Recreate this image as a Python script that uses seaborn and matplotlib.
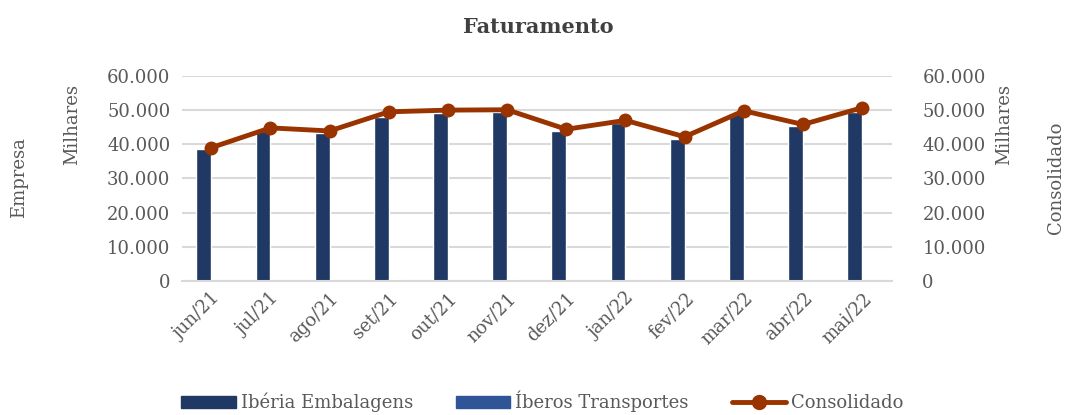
import numpy as np
import pandas as pd
import matplotlib
matplotlib.use("Agg")
import matplotlib.pyplot as plt
import seaborn as sns
from matplotlib.lines import Line2D
from matplotlib.patches import Patch

# dados
meses = ['jun/21', 'jul/21', 'ago/21', 'set/21', 'out/21', 'nov/21',
         'dez/21', 'jan/22', 'fev/22', 'mar/22', 'abr/22', 'mai/22']
iberia = [38600, 43900, 43300, 48000, 49200, 49500,
          43900, 46100, 41600, 49200, 45300, 49500]
iberos = [150, 120, 130, 500, 150, 450, 120, 100, 100, 120, 110, 120]
consolidado = [39000, 44800, 43900, 49500, 50000, 50100,
               44400, 47000, 42200, 49800, 45800, 50700]
yticks = [0, 10000, 20000, 30000, 40000, 50000, 60000]
ylabels = ['0', '10.000', '20.000', '30.000', '40.000', '50.000', '60.000']

cor_iberia = '#1F3864'
cor_iberos = '#2F5597'
cor_cons = '#993300'
cinza = '#595959'

sns.set_theme(style='white')
plt.rcParams['font.family'] = ['DejaVu Serif']
fs = 13

df = pd.DataFrame({
    'mes': meses * 2,
    'valor': iberia + iberos,
    'empresa': ['Ibéria Embalagens'] * len(meses) + ['Íberos Transportes'] * len(meses),
})

fig = plt.figure(figsize=(10.68, 4.15), dpi=100)
ax = fig.add_axes([0.170, 0.323, 0.665, 0.494])

sns.barplot(data=df, x='mes', y='valor', hue='empresa', order=meses,
            palette=[cor_iberia, cor_iberos], saturation=1, width=0.5, gap=0.0,
            ax=ax, legend=False)
ax.set_ylim(0, 60000)
ax.set_xlim(-0.5, len(meses) - 0.5)
ax.set_yticks(yticks)
ax.set_yticklabels(ylabels, fontsize=fs, color=cinza)
ax.yaxis.grid(True, color='#D9D9D9', linewidth=1.5)
ax.set_axisbelow(True)
for s in ['top', 'right', 'left']:
    ax.spines[s].set_visible(False)
ax.spines['bottom'].set_color('#D9D9D9')
ax.spines['bottom'].set_linewidth(1.5)
ax.tick_params(axis='y', length=0, pad=8)
ax.set_xticks(range(len(meses)))
ax.set_xticklabels(meses, rotation=45, ha='right', rotation_mode='anchor',
                   fontsize=fs, color=cinza)
ax.tick_params(axis='x', which='major', length=0, pad=6)
ax.set_xticks(np.arange(-0.5, len(meses), 1.0), minor=True)
ax.tick_params(axis='x', which='minor', length=6, color='#D9D9D9', width=1.5)
ax.set_xlabel('')
ax.set_ylabel('')

ax2 = ax.twinx()
sns.lineplot(x=np.arange(len(meses)), y=consolidado, color=cor_cons,
             linewidth=3.5, marker='o', markersize=10, markeredgewidth=0, ax=ax2)
ax2.set_ylim(0, 60000)
ax2.set_yticks(yticks)
ax2.set_yticklabels(ylabels, fontsize=fs, color=cinza)
ax2.tick_params(axis='y', length=0, pad=22)
for s in ax2.spines.values():
    s.set_visible(False)
ax2.grid(False)

fig.text(0.504, 0.935, 'Faturamento', ha='center', va='center',
         fontsize=15, fontweight='bold', color='#404040')
fig.text(0.068, 0.70, 'Milhares', rotation=90, ha='center', va='center',
         fontsize=fs, color=cinza)
fig.text(0.018, 0.571, 'Empresa', rotation=90, ha='center', va='center',
         fontsize=fs, color=cinza)
fig.text(0.940, 0.70, 'Milhares', rotation=90, ha='center', va='center',
         fontsize=fs, color=cinza)
fig.text(0.989, 0.571, 'Consolidado', rotation=90, ha='center', va='center',
         fontsize=fs, color=cinza)

handles = [Patch(color=cor_iberia), Patch(color=cor_iberos),
           Line2D([0], [0], color=cor_cons, linewidth=3.5, marker='o', markersize=10)]
fig.legend(handles, ['Ibéria Embalagens', 'Íberos Transportes', 'Consolidado'],
           loc='center', bbox_to_anchor=(0.508, 0.032), ncol=3, frameon=False,
           fontsize=fs, handlelength=3.0, handleheight=0.7, columnspacing=2.4,
           handletextpad=0.28, labelcolor=cinza)

fig.savefig('out.png', dpi=100)
